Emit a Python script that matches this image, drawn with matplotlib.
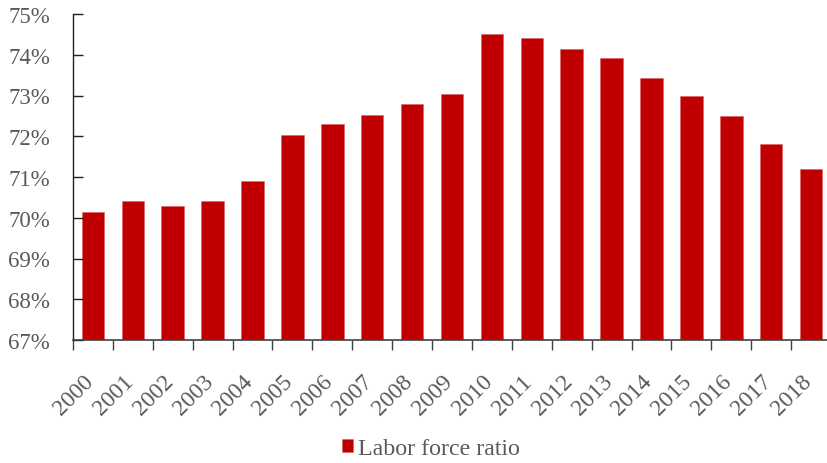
import matplotlib
matplotlib.use("Agg")
import matplotlib.pyplot as plt
from matplotlib.ticker import FuncFormatter, MultipleLocator

years = ["2000", "2001", "2002", "2003", "2004", "2005", "2006", "2007", "2008", "2009",
         "2010", "2011", "2012", "2013", "2014", "2015", "2016", "2017", "2018"]
labor_force_ratio = [70.14, 70.40, 70.29, 70.40, 70.91, 72.03, 72.31, 72.52, 72.79, 73.03,
                     74.52, 74.41, 74.14, 73.91, 73.44, 73.00, 72.49, 71.81, 71.19]

plt.rcParams["font.family"] = ["Liberation Serif", "DejaVu Serif"]
text_color = "#595959"
bar_color = "#C00000"

fig = plt.figure(figsize=(8.27, 4.64), dpi=100)
# plot area: x 73..831 px, y 15..341 px (measured from the top)
ax = fig.add_axes([73 / 827, (464 - 341) / 464, (831 - 73) / 827, (341 - 15) / 464])

x = list(range(len(years)))
ax.bar(x, [v - 67 for v in labor_force_ratio], bottom=67, width=0.565,
       color=bar_color, edgecolor="#d86060", linewidth=0.4, label="Labor force ratio")

ax.set_xlim(-0.5, len(years) - 0.5)
ax.set_ylim(67, 75)
ax.yaxis.set_major_locator(MultipleLocator(1))
ax.yaxis.set_major_formatter(FuncFormatter(lambda v, _: f"{v:.0f}%"))

# tick marks sit between categories; rotated labels hang under each bar,
# nudged a little right so the glyphs end at the bar centre
ax.set_xticks([i - 0.5 for i in range(len(years) + 1)], minor=False)
ax.set_xticklabels([""] * (len(years) + 1))
ax.set_xticks([i + 0.12 for i in x], minor=True)
ax.set_xticklabels(years, minor=True, rotation=45, ha="right", va="top",
                   rotation_mode="default", fontsize=17, color=text_color)
ax.tick_params(axis="x", which="minor", length=0, pad=22)
ax.tick_params(axis="x", which="major", direction="out", length=7, width=1, color="#404040")
ax.tick_params(axis="y", direction="in", length=7, width=1, color="#202020",
               labelsize=16.5, labelcolor=text_color, pad=16.5)

for side in ("top", "right"):
    ax.spines[side].set_visible(False)
ax.spines["left"].set_color("#202020")
ax.spines["bottom"].set_color("#404040")
ax.spines["left"].set_linewidth(1)
ax.spines["bottom"].set_linewidth(1.2)

fig.legend(loc="center", bbox_to_anchor=(431 / 827, 1 - 450 / 464), frameon=False,
           fontsize=17.2, handlelength=0.46, handleheight=0.46, handletextpad=0.21,
           labelcolor=text_color)

fig.savefig("out.png", dpi=100)
